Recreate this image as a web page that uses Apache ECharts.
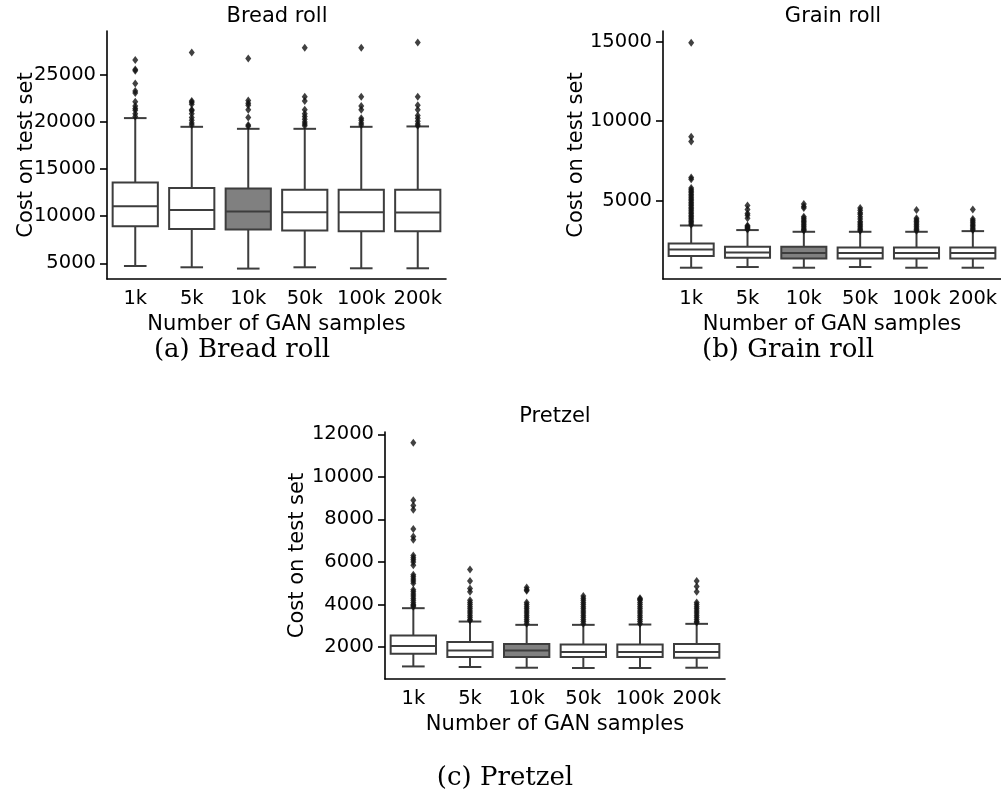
<!DOCTYPE html>
<html>
<head>
<meta charset="utf-8">
<script src="https://cdn.jsdelivr.net/npm/echarts@6/dist/echarts.min.js"></script>
<style>
html,body{margin:0;padding:0;background:#fff;}
#c{width:1001px;height:794px;}
</style>
</head>
<body>
<div id="c"></div>
<script>
// ---------- data ----------
const categories = ['1k', '5k', '10k', '50k', '100k', '200k'];

// [lower whisker, Q1, median, Q3, upper whisker]
const breadStats = [
  [4713, 8936, 11064, 13585, 20426],
  [4574, 8649, 10670, 13011, 19500],
  [4436, 8585, 10500, 12943, 19287],
  [4574, 8479, 10426, 12800, 19287],
  [4468, 8404, 10426, 12800, 19500],
  [4468, 8404, 10390, 12800, 19540]
];
const breadOutliers = [
  [26600, 25600, 25450, 24100, 23300, 23100, 22150, 21700, 21450, 21250, 20900, 20600],
  [27400, 22250, 22100, 21900, 21300, 21200, 20900, 20500, 20200, 19900, 19700],
  [26750, 22300, 22000, 21800, 21300, 20500, 19700, 19550],
  [27900, 22700, 22250, 21300, 20900, 20600, 20300, 20000, 19800, 19600],
  [27900, 22700, 21700, 21300, 20400, 20200, 19900, 19700],
  [28450, 22700, 21800, 21300, 20700, 20400, 20100, 19800, 19600]
];
const breadTicks = [5000, 10000, 15000, 20000, 25000];

const grainStats = [
  [797, 1530, 1945, 2322, 3450],
  [840, 1424, 1757, 2114, 3162],
  [797, 1380, 1719, 2114, 3055],
  [840, 1380, 1719, 2071, 3055],
  [797, 1380, 1719, 2071, 3055],
  [797, 1380, 1719, 2071, 3096]
];
const grainOutliers = [
  [14930, 9030, 8720, 6460, 6350, 5800, 5700, 5600, 5500, 5400, 5300, 5200, 5100, 5000, 4900, 4800, 4700, 4600, 4500, 4400, 4300, 4200, 4100, 4000, 3900, 3800, 3700, 3600, 3500],
  [4700, 4450, 4200, 4100, 3900, 3450, 3380, 3320, 3260, 3200],
  [4800, 4650, 4550, 4000, 3900, 3800, 3700, 3600, 3500, 3400, 3300, 3200, 3130],
  [4550, 4400, 4250, 4150, 4000, 3850, 3700, 3600, 3500, 3400, 3300, 3200, 3120],
  [4420, 3900, 3800, 3700, 3600, 3500, 3400, 3300, 3200, 3120],
  [4450, 3850, 3750, 3650, 3550, 3450, 3350, 3250, 3160]
];
const grainTicks = [5000, 10000, 15000];

const pretzelStats = [
  [1091, 1686, 2047, 2544, 3828],
  [1063, 1531, 1841, 2234, 3200],
  [1030, 1531, 1841, 2140, 3045],
  [1016, 1531, 1766, 2122, 3045],
  [1016, 1531, 1766, 2122, 3060],
  [1030, 1498, 1766, 2140, 3092]
];
const pretzelOutliers = [
  [11600, 8900, 8650, 8450, 7550, 7200, 7050, 6300, 6200, 6100, 6000, 5850, 5400, 5300, 5200, 5100, 5000, 4700, 4600, 4500, 4400, 4300, 4200, 4100, 4000, 3950, 3900],
  [5650, 5100, 4750, 4600, 4200, 4100, 4000, 3900, 3800, 3700, 3600, 3500, 3400, 3300, 3250],
  [4800, 4700, 4650, 4100, 4000, 3900, 3800, 3700, 3600, 3500, 3400, 3300, 3200, 3100],
  [4400, 4300, 4200, 4100, 4000, 3900, 3800, 3700, 3600, 3500, 3400, 3300, 3200, 3100],
  [4300, 4250, 4200, 4100, 4000, 3900, 3800, 3700, 3600, 3500, 3400, 3300, 3200, 3100],
  [5100, 4850, 4600, 4100, 4000, 3900, 3800, 3700, 3600, 3500, 3400, 3300, 3200, 3150]
];
const pretzelTicks = [2000, 4000, 6000, 8000, 10000, 12000];

const titles = ['Bread roll', 'Grain roll', 'Pretzel'];
const captions = ['(a) Bread roll', '(b) Grain roll', '(c) Pretzel'];
const xName = 'Number of GAN samples';
const yName = 'Cost on test set';
const highlightIndex = 2; // 10k box is filled grey

// ---------- layout ----------
const FONT = 'DejaVu Sans';
const grids = [
  {left: 107, top: 31, width: 339, height: 248},
  {left: 663, top: 31, width: 340, height: 248},
  {left: 385, top: 432, width: 340, height: 247}
];
const yRanges = [[3330, 29680], [88, 15670], [500, 12108]];
const yNameGaps = [70, 76, 76.5];

function boxRender(params, api) {
  const i = api.value(0);
  const lo = api.coord([i, api.value(1)]);
  const q1 = api.coord([i, api.value(2)]);
  const md = api.coord([i, api.value(3)]);
  const q3 = api.coord([i, api.value(4)]);
  const hi = api.coord([i, api.value(5)]);
  const bw = api.size([1, 0])[0] * 0.8;
  const cx = md[0];
  const stroke = '#3d3d3d';
  const lw = 2;
  const fill = i === highlightIndex ? '#808080' : '#ffffff';
  const ls = {stroke: stroke, lineWidth: lw};
  return {
    type: 'group',
    children: [
      {type: 'line', shape: {x1: cx, y1: q1[1], x2: cx, y2: lo[1]}, style: ls},
      {type: 'line', shape: {x1: cx, y1: q3[1], x2: cx, y2: hi[1]}, style: ls},
      {type: 'line', shape: {x1: cx - bw / 4, y1: lo[1], x2: cx + bw / 4, y2: lo[1]}, style: ls},
      {type: 'line', shape: {x1: cx - bw / 4, y1: hi[1], x2: cx + bw / 4, y2: hi[1]}, style: ls},
      {type: 'rect', shape: {x: cx - bw / 2, y: q3[1], width: bw, height: q1[1] - q3[1]},
        style: {fill: fill, stroke: stroke, lineWidth: lw}},
      {type: 'line', shape: {x1: cx - bw / 2, y1: md[1], x2: cx + bw / 2, y2: md[1]}, style: ls}
    ]
  };
}

const allStats = [breadStats, grainStats, pretzelStats];
const allOutliers = [breadOutliers, grainOutliers, pretzelOutliers];
const allTicks = [breadTicks, grainTicks, pretzelTicks];

const xAxes = [], yAxes = [], series = [];
for (let k = 0; k < 3; k++) {
  xAxes.push({
    type: 'category', gridIndex: k, data: categories, boundaryGap: true,
    name: xName, nameLocation: 'middle', nameGap: 35, nameMoveOverlap: false,
    nameTextStyle: {fontFamily: FONT, fontSize: 21, color: '#000'},
    axisLine: {lineStyle: {color: '#000', width: 1.6}},
    axisTick: {alignWithLabel: true, interval: 0, length: 7, lineStyle: {color: '#000', width: 1.6}},
    axisLabel: {fontFamily: FONT, fontSize: 19.5, color: '#000', margin: 10, interval: 0, hideOverlap: false},
    splitLine: {show: false}
  });
  yAxes.push({
    type: 'value', gridIndex: k, min: yRanges[k][0], max: yRanges[k][1],
    name: yName, nameLocation: 'middle', nameGap: yNameGaps[k], nameMoveOverlap: false,
    nameTextStyle: {fontFamily: FONT, fontSize: 21, color: '#000'},
    axisLine: {show: true, lineStyle: {color: '#000', width: 1.6}},
    axisTick: {show: true, length: 7, customValues: allTicks[k], lineStyle: {color: '#000', width: 1.6}},
    axisLabel: {fontFamily: FONT, fontSize: 19.5, color: '#000', margin: 11,
      customValues: allTicks[k], formatter: v => String(v)},
    splitLine: {show: false}
  });
  series.push({
    type: 'custom', xAxisIndex: k, yAxisIndex: k,
    renderItem: boxRender,
    encode: {x: 0, y: [1, 2, 3, 4, 5]},
    data: allStats[k].map((s, i) => [i].concat(s)),
    z: 2
  });
  const pts = [];
  allOutliers[k].forEach((arr, i) => arr.forEach(v => pts.push([i, v])));
  series.push({
    type: 'scatter', xAxisIndex: k, yAxisIndex: k,
    symbol: 'diamond', symbolSize: [6, 8],
    itemStyle: {color: '#111'},
    data: pts, z: 3
  });
}

const titlePos = [[277, 17], [833, 17], [555, 417]];
const captionPos = [[242, 350], [788, 350], [505, 778]];
const graphics = [];
for (let k = 0; k < 3; k++) {
  graphics.push({type: 'text', x: titlePos[k][0], y: titlePos[k][1],
    style: {text: titles[k], fontFamily: FONT, fontSize: 21, fill: '#000', textAlign: 'center', textVerticalAlign: 'middle'}});
  graphics.push({type: 'text', x: captionPos[k][0], y: captionPos[k][1],
    style: {text: captions[k], fontFamily: 'DejaVu Serif', fontSize: 26, fill: '#000', textAlign: 'center', textVerticalAlign: 'middle'}});
}

const chart = echarts.init(document.getElementById('c'), null, {renderer: 'canvas'});
chart.setOption({
  animation: false,
  backgroundColor: '#fff',
  grid: grids,
  xAxis: xAxes,
  yAxis: yAxes,
  series: series,
  graphic: graphics
});
</script>
</body>
</html>
